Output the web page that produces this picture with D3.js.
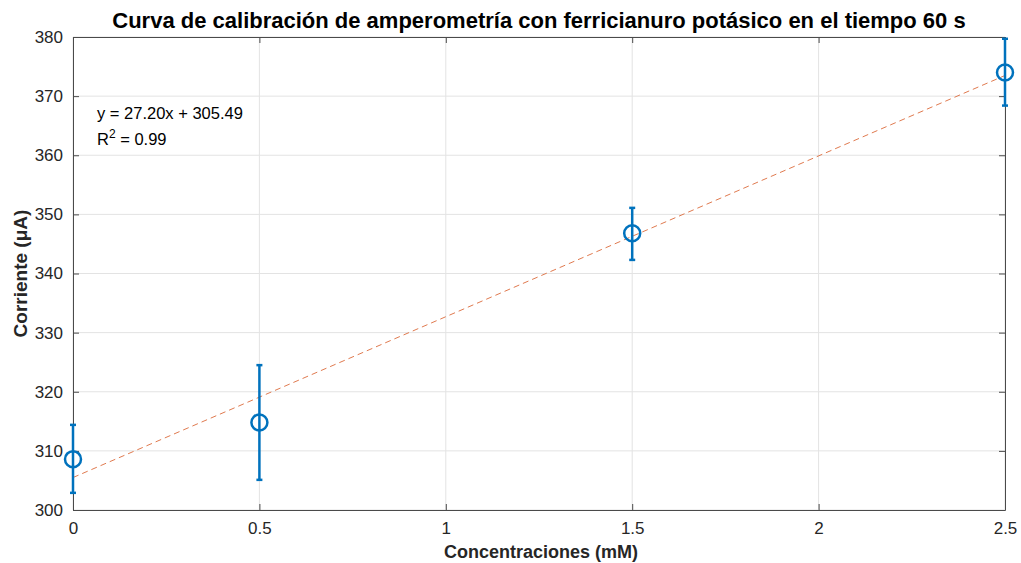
<!DOCTYPE html>
<html><head><meta charset="utf-8">
<script src="https://cdn.jsdelivr.net/npm/d3@7"></script>
<style>body{margin:0;background:#fff}svg{display:block;font-family:"Liberation Sans",Arial,Helvetica,sans-serif}</style>
</head><body>
<script>
const concentrations = [0, 0.5, 1.5, 2.5];
const currents = [308.6, 314.8, 346.8, 374.0];
const errLow = [302.9, 305.1, 342.3, 368.4];
const errHigh = [314.4, 324.5, 351.1, 379.7];
const xTicks = [0, 0.5, 1, 1.5, 2, 2.5];
const yTicks = [300, 310, 320, 330, 340, 350, 360, 370, 380];
const slope = 27.20, intercept = 305.49;
const titleText = "Curva de calibración de amperometría con ferricianuro potásico en el tiempo 60 s";

const W = 1021, H = 563;
const m = {left: 73, right: 16, top: 37, bottom: 53};
const svg = d3.select("body").append("svg").attr("width", W).attr("height", H);
const x = d3.scaleLinear().domain([0, 2.5]).range([m.left, W - m.right]);
const y = d3.scaleLinear().domain([300, 380]).range([H - m.bottom, m.top]);
const axisCol = "#4a4a4a", textCol = "#262626";

// grid
const g = svg.append("g");
g.selectAll(".gx").data(xTicks).join("line")
  .attr("x1", d => x(d)).attr("x2", d => x(d)).attr("y1", y(300)).attr("y2", y(380))
  .attr("stroke", "#e3e3e3").attr("stroke-width", 1);
g.selectAll(".gy").data(yTicks).join("line")
  .attr("y1", d => y(d)).attr("y2", d => y(d)).attr("x1", x(0)).attr("x2", x(2.5))
  .attr("stroke", "#e3e3e3").attr("stroke-width", 1);

// axes
const fmt = d => String(d);
const xa = svg.append("g").attr("transform", `translate(0,${y(300)})`)
  .call(d3.axisBottom(x).tickValues(xTicks).tickFormat(fmt).tickSizeInner(-6).tickSizeOuter(0).tickPadding(12));
const xt = svg.append("g").attr("transform", `translate(0,${y(380)})`)
  .call(d3.axisTop(x).tickValues(xTicks).tickFormat("").tickSizeInner(-6).tickSizeOuter(0));
const ya = svg.append("g").attr("transform", `translate(${x(0)},0)`)
  .call(d3.axisLeft(y).tickValues(yTicks).tickFormat(fmt).tickSizeInner(-6).tickSizeOuter(0).tickPadding(10));
const yr = svg.append("g").attr("transform", `translate(${x(2.5)},0)`)
  .call(d3.axisRight(y).tickValues(yTicks).tickFormat("").tickSizeInner(-6).tickSizeOuter(0));
[xa, xt, ya, yr].forEach(a => {
  a.select(".domain").attr("stroke", axisCol).attr("stroke-width", 1);
  a.selectAll(".tick line").attr("stroke", axisCol);
  a.selectAll(".tick text").attr("fill", textCol).style("font-size", "17px")
   .style("font-family", '"Liberation Sans",Arial,sans-serif');
});

// fit line
svg.append("line")
  .attr("x1", x(0)).attr("y1", y(intercept))
  .attr("x2", x(2.5)).attr("y2", y(slope * 2.5 + intercept))
  .attr("stroke", "#E07A4F").attr("stroke-width", 1).attr("stroke-dasharray", "6,4");

// error bars
const blue = "#0072BD";
const eb = svg.append("g").attr("stroke", blue).attr("stroke-width", 2.5).attr("fill", "none");
concentrations.forEach((c, i) => {
  const cx = x(c);
  eb.append("line").attr("x1", cx).attr("x2", cx).attr("y1", y(errLow[i])).attr("y2", y(errHigh[i]));
  eb.append("line").attr("x1", cx - 3).attr("x2", cx + 3).attr("y1", y(errLow[i])).attr("y2", y(errLow[i]));
  eb.append("line").attr("x1", cx - 3).attr("x2", cx + 3).attr("y1", y(errHigh[i])).attr("y2", y(errHigh[i]));
});
svg.append("g").selectAll("circle").data(concentrations).join("circle")
  .attr("cx", d => x(d)).attr("cy", (d, i) => y(currents[i])).attr("r", 8)
  .attr("fill", "none").attr("stroke", blue).attr("stroke-width", 2.5);

// equation
const eq = svg.append("g").attr("fill", "#000").style("font-size", "16.5px");
eq.append("text").attr("x", 97).attr("y", 119).text(`y = ${slope.toFixed(2)}x + ${intercept.toFixed(2)}`);
const r2 = eq.append("text").attr("x", 97).attr("y", 145);
r2.append("tspan").text("R");
r2.append("tspan").attr("dy", -7).style("font-size", "12px").text("2");
r2.append("tspan").attr("dy", 7).text(" = 0.99");

// title & labels
svg.append("text").attr("x", 539).attr("y", 28).attr("text-anchor", "middle")
  .attr("fill", "#000").style("font-size", "22px").style("font-weight", "bold").text(titleText);
svg.append("text").attr("x", 541).attr("y", 558).attr("text-anchor", "middle")
  .attr("fill", textCol).style("font-size", "18px").style("font-weight", "bold").text("Concentraciones (mM)");
svg.append("text").attr("transform", `translate(27,${(y(300) + y(380)) / 2}) rotate(-90)`)
  .attr("text-anchor", "middle").attr("fill", textCol).style("font-size", "19px").style("font-weight", "bold")
  .text("Corriente (μA)");
</script>
</body></html>
